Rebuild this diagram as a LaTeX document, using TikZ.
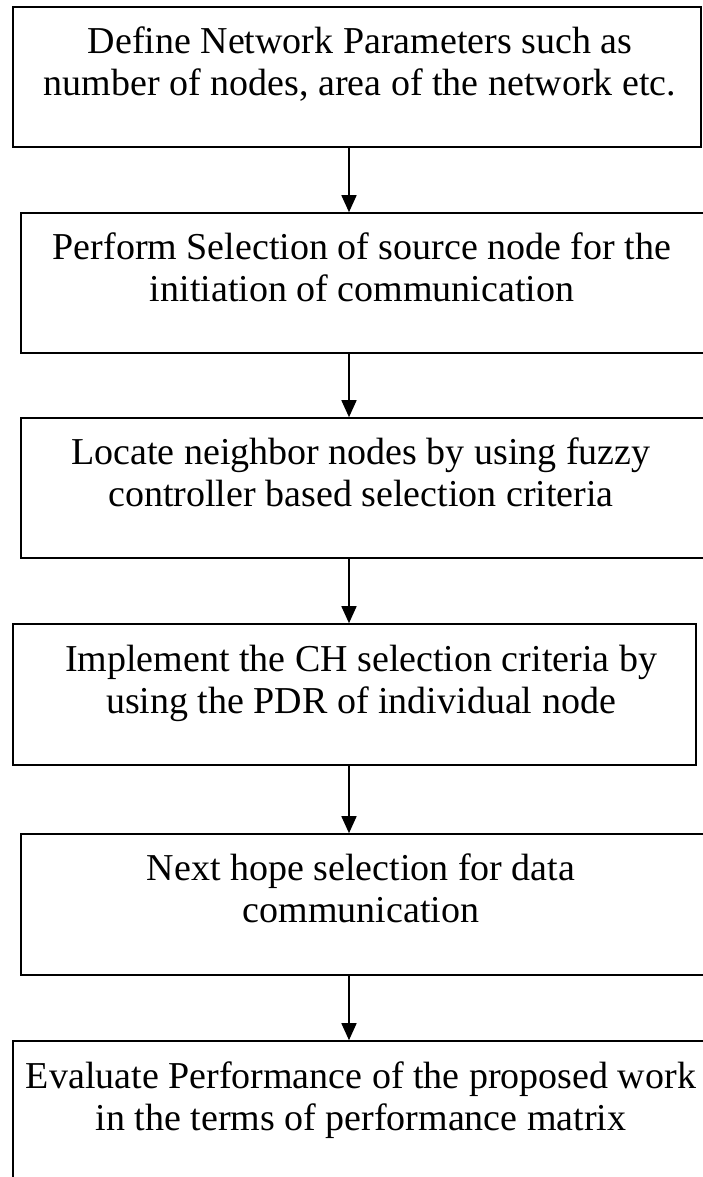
\documentclass[tikz,border=0pt]{standalone}
\usepackage{fontspec}
\setmainfont{Liberation Serif}
\usetikzlibrary{arrows.meta}

\tikzset{
  stepbox/.style={draw, line width=1.6pt, inner sep=0pt},
  steptext/.style={anchor=north, align=center, inner sep=0pt,
    font=\fontsize{38}{42}\selectfont},
  flowarrow/.style={line width=1.6pt, -{Triangle[width=15pt,length=17pt]}}
}

\begin{document}
\begin{tikzpicture}[x=1pt,y=-1pt]
  \useasboundingbox (0,0) rectangle (703,1177);
  \clip (0,0) rectangle (703,1177);
  % boxes
  \node[stepbox, minimum width=688pt, minimum height=140pt] (b1) at (357,77) {};
  \node[stepbox, minimum width=704pt, minimum height=140pt] (b2) at (373,283) {};
  \node[stepbox, minimum width=704pt, minimum height=140pt] (b3) at (373,488) {};
  \node[stepbox, minimum width=683pt, minimum height=141pt] (b4) at (354.5,694.5) {};
  \node[stepbox, minimum width=704pt, minimum height=141pt] (b5) at (373,904.5) {};
  \node[stepbox, minimum width=712pt, minimum height=160pt] (b6) at (369,1121) {};
  % texts
  \node[steptext] (t1) at (360,27) {Define Network Parameters such as\\number of nodes, area of the network etc.};
  \node[steptext] (t2) at (362,233) {Perform Selection of source node for the\\initiation of communication};
  \node[steptext] (t3) at (361,438) {Locate neighbor nodes by using fuzzy\\controller based selection criteria};
  \node[steptext] (t4) at (361,645) {Implement the CH selection criteria by\\using the PDR of individual node};
  \node[steptext] (t5) at (361,854) {Next hope selection for data\\communication};
  \node[steptext] (t6) at (361,1062) {Evaluate Performance of the proposed work\\in the terms of performance matrix};
  % arrows
  \coordinate (ax) at (349,0);
  \foreach \a/\b in {b1/b2,b2/b3,b3/b4,b4/b5,b5/b6}
    \draw[flowarrow] (\a.south -| ax) -- (\b.north -| ax);
\end{tikzpicture}
\end{document}
